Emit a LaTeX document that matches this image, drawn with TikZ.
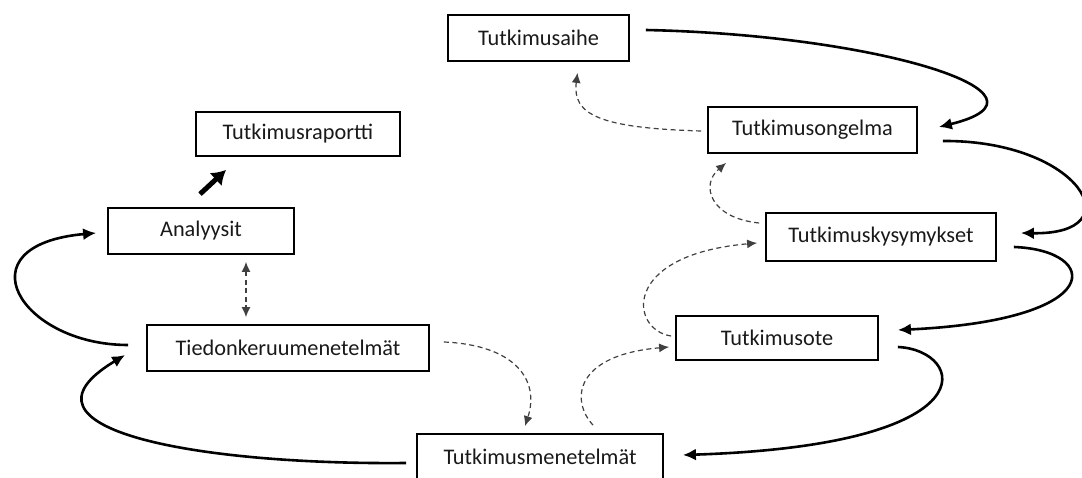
\documentclass[tikz,border=0pt]{standalone}
\usepackage{fontspec}
\setmainfont{Carlito}
\usetikzlibrary{calc,arrows.meta}

\begin{document}
\begin{tikzpicture}[x=1pt,y=-1pt,
  every node/.style={font=\fontsize{22.3}{27}\selectfont,text=black!90},
  box/.style={draw,line width=1.8pt,inner sep=0pt,minimum height=46},
  flow/.style={line width=2.6pt,-{Latex[length=13pt,width=12pt]}},
  hint/.style={line width=1.2pt,black!75,dash pattern=on 5pt off 3.5pt,-{Latex[length=10pt,width=9pt]}}]
  \useasboundingbox (0,0) rectangle (1082,478);
  \node[box,minimum width=181] (aihe) at (538.5,38) {Tutkimusaihe};
  \node[box,minimum width=209] (ongelma) at (812.5,130) {Tutkimusongelma};
  \node[box,minimum width=230,minimum height=48] (kysymykset) at (881,237) {Tutkimuskysymykset};
  \node[box,minimum width=202,minimum height=44] (ote) at (777,338) {Tutkimusote};
  \node[box,minimum width=246] (menetelmat) at (540,457) {Tutkimusmenetelmät};
  \node[box,minimum width=282] (tiedonkeruu) at (288,348) {Tiedonkeruumenetelmät};
  \node[box,minimum width=186] (analyysit) at (201,231) {Analyysit};
  \node[box,minimum width=204,minimum height=44] (raportti) at (298,134) {Tutkimusraportti};
  \draw[flow] ($(aihe.east)+(16,-8)$) .. controls (880,35) and (1070,95) .. ($(ongelma.east)+(21,-3)$);
  \draw[flow] ($(ongelma.east)+(25,11)$) .. controls (1080,140) and (1135,235) .. ($(kysymykset.east)+(24,-4)$);
  \draw[flow] ($(kysymykset.east)+(17,10)$) .. controls (1100,250) and (1110,320) .. ($(ote.east)+(19,-8)$);
  \draw[flow] ($(ote.east)+(19,9)$) .. controls (965,350) and (995,445) .. ($(menetelmat.east)+(19,-2)$);
  \draw[flow] ($(menetelmat.west)+(-10,6)$) .. controls (200,465) and (0,430) .. ($(tiedonkeruu.west)+(-21,7)$);
  \draw[flow] ($(tiedonkeruu.west)+(-18,-3)$) .. controls (20,345) and (-40,245) .. ($(analyysit.west)+(-11,2)$);
  \draw[line width=5pt,-{Latex[length=14pt,width=18pt]}] ($(analyysit.north)+(-1,-13)$) -- ($(raportti.south west)+(31,13)$);
  \draw[hint] ($(ongelma.west)+(-6,1)$) .. controls (600,128) and (572,115) .. ($(aihe.south)+(39,11)$);
  \draw[hint] ($(kysymykset.west)+(-6,-14)$) .. controls (710,218) and (700,185) .. ($(ongelma.south west)+(19,9)$);
  \draw[hint] ($(ote.west)+(-4,-2)$) .. controls (630,330) and (620,255) .. ($(kysymykset.west)+(-8,6)$);
  \draw[hint] ($(menetelmat.north)+(53,-8)$) .. controls (570,400) and (575,355) .. ($(ote.west)+(-6,9)$);
  \draw[hint] ($(tiedonkeruu.east)+(14,-6)$) .. controls (515,345) and (540,380) .. ($(menetelmat.north)+(-15,-7)$);
  \draw[hint,{Latex[length=10pt,width=9pt]}-{Latex[length=10pt,width=9pt]}] ($(analyysit.south)+(45,7)$) -- ($(tiedonkeruu.north)+(-42,-7)$);
\end{tikzpicture}
\end{document}
